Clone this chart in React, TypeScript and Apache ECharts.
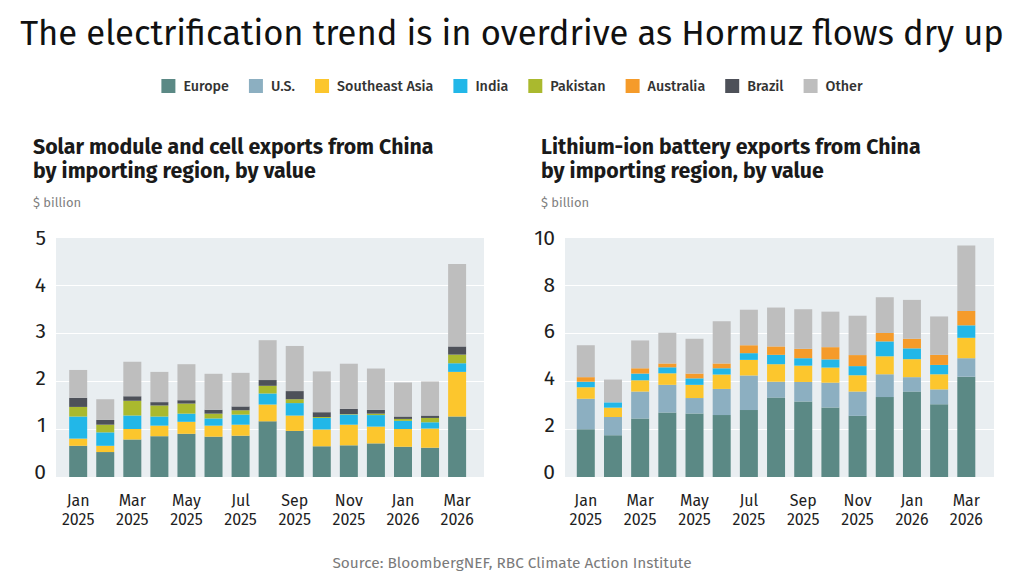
import { useEffect, useRef } from "react";
import * as echarts from "echarts";

// Month categories shared by both panels
const months = [
  "Jan\n2025", "Feb\n2025", "Mar\n2025", "Apr\n2025", "May\n2025", "Jun\n2025", "Jul\n2025",
  "Aug\n2025", "Sep\n2025", "Oct\n2025", "Nov\n2025", "Dec\n2025", "Jan\n2026", "Feb\n2026", "Mar\n2026",
];

// Solar module and cell exports, $ billion
const solarEurope = [0.65, 0.52, 0.78, 0.85, 0.9, 0.84, 0.86, 1.16, 0.96, 0.64, 0.66, 0.7, 0.63, 0.61, 1.26];
const solarSoutheastAsia = [0.15, 0.13, 0.22, 0.22, 0.25, 0.23, 0.23, 0.35, 0.32, 0.35, 0.43, 0.35, 0.37, 0.4, 0.93];
const solarIndia = [0.46, 0.28, 0.28, 0.19, 0.17, 0.15, 0.21, 0.23, 0.26, 0.24, 0.21, 0.24, 0.17, 0.13, 0.18];
const solarPakistan = [0.2, 0.16, 0.31, 0.23, 0.21, 0.1, 0.09, 0.16, 0.08, 0.02, 0.01, 0.03, 0.04, 0.09, 0.18];
const solarBrazil = [0.19, 0.1, 0.09, 0.07, 0.07, 0.08, 0.08, 0.12, 0.17, 0.1, 0.11, 0.08, 0.05, 0.05, 0.17];
const solarOther = [0.58, 0.43, 0.72, 0.63, 0.75, 0.75, 0.7, 0.83, 0.94, 0.85, 0.94, 0.86, 0.71, 0.71, 1.72];

// Lithium-ion battery exports, $ billion
const batteryEurope = [1.99, 1.74, 2.44, 2.69, 2.65, 2.58, 2.79, 3.31, 3.15, 2.9, 2.55, 3.33, 3.56, 3.03, 4.18];
const batteryUS = [1.27, 0.76, 1.12, 1.15, 0.64, 1.09, 1.44, 0.66, 0.81, 1.03, 1.01, 0.95, 0.6, 0.62, 0.77];
const batterySoutheastAsia = [0.48, 0.39, 0.47, 0.48, 0.55, 0.6, 0.65, 0.73, 0.68, 0.63, 0.68, 0.75, 0.75, 0.63, 0.85];
const batteryIndia = [0.23, 0.22, 0.28, 0.25, 0.27, 0.26, 0.28, 0.39, 0.31, 0.34, 0.38, 0.62, 0.45, 0.39, 0.52];
const batteryAustralia = [0.19, 0, 0.22, 0.16, 0.2, 0.2, 0.33, 0.35, 0.39, 0.51, 0.46, 0.35, 0.4, 0.42, 0.6];
const batteryOther = [1.33, 0.95, 1.16, 1.28, 1.45, 1.76, 1.48, 1.62, 1.65, 1.48, 1.64, 1.49, 1.62, 1.6, 2.73];

// [min, max, step] of each value axis
const solarTicks = [0, 5, 1];
const batteryTicks = [0, 10, 2];

const regionNames = ["Europe", "U.S.", "Southeast Asia", "India", "Pakistan", "Australia", "Brazil", "Other"];
const regionColors: Record<string, string> = {
  Europe: "#5b8985",
  "U.S.": "#8cafc1",
  "Southeast Asia": "#fcc62d",
  India: "#22b7e8",
  Pakistan: "#aab92e",
  Australia: "#f59b2a",
  Brazil: "#4e5159",
  Other: "#bebebe",
};

const FONT = "'Fira Sans', 'Noto Sans', sans-serif";

export default function App() {
  const ref = useRef<HTMLDivElement>(null);

  useEffect(() => {
    if (!ref.current) return;
    const chart = echarts.init(ref.current, undefined, { renderer: "svg" });

    const solarSeries: [string, number[]][] = [
      ["Europe", solarEurope],
      ["Southeast Asia", solarSoutheastAsia],
      ["India", solarIndia],
      ["Pakistan", solarPakistan],
      ["Brazil", solarBrazil],
      ["Other", solarOther],
    ];
    const batterySeries: [string, number[]][] = [
      ["Europe", batteryEurope],
      ["U.S.", batteryUS],
      ["Southeast Asia", batterySoutheastAsia],
      ["India", batteryIndia],
      ["Australia", batteryAustralia],
      ["Other", batteryOther],
    ];

    const barSeries = (list: [string, number[]][], axis: number, stack: string) =>
      list.map(([name, values]) => ({
        type: "bar",
        name,
        stack,
        xAxisIndex: axis,
        yAxisIndex: axis,
        barWidth: 18,
        itemStyle: { color: regionColors[name] },
        data: values,
      }));

    // Panel background with white gridlines
    const bgGrid = (left: number, width: number) => ({
      left,
      top: 237,
      width,
      height: 240,
      show: true,
      backgroundColor: "#e9eef1",
      borderWidth: 0,
    });
    // Category area holding the bars
    const barGrid = (left: number, width: number) => ({ left, top: 237, width, height: 240 });
    // Area carrying the tick numbers
    const labelGrid = (left: number) => ({ left, top: 238, width: 10, height: 233.5 });

    const gridY = (grid: number, ticks: number[]) => ({
      type: "value",
      gridIndex: grid,
      min: ticks[0],
      max: ticks[1],
      interval: ticks[2],
      axisLine: { show: false },
      axisTick: { show: false },
      axisLabel: { show: false },
      splitLine: { lineStyle: { color: "#ffffff", width: 1 } },
    });
    const labelY = (grid: number, ticks: number[]) => ({
      type: "value",
      gridIndex: grid,
      min: ticks[0],
      max: ticks[1],
      interval: ticks[2],
      axisLine: { show: false },
      axisTick: { show: false },
      splitLine: { show: false },
      axisLabel: { fontSize: 21, color: "#1e1e1e", margin: 10, fontFamily: FONT },
    });
    const hiddenY = (grid: number, ticks: number[]) => ({
      type: "value",
      gridIndex: grid,
      min: ticks[0],
      max: ticks[1],
      show: false,
    });
    const hiddenX = (grid: number) => ({ type: "value", gridIndex: grid, min: 0, max: 1, show: false });
    const monthX = (grid: number) => ({
      type: "category",
      gridIndex: grid,
      data: months,
      axisLine: { show: false },
      axisTick: { show: false },
      axisLabel: {
        interval: 1,
        fontSize: 16,
        lineHeight: 19,
        color: "#1e1e1e",
        margin: 14,
        fontFamily: FONT,
      },
    });

    const text = (x: number, y: number, t: string, style: any) => ({
      type: "text",
      x,
      y,
      silent: true,
      style: { text: t, fontFamily: FONT, ...style },
    });
    const heading = { fontSize: 21.3, fontWeight: "bold", fill: "#1a1a1a", verticalAlign: "middle" };

    chart.setOption({
      animation: false,
      textStyle: { fontFamily: FONT },
      grid: [
        bgGrid(56, 428),
        barGrid(64.65, 406),
        labelGrid(56),
        bgGrid(565, 429),
        barGrid(572.2, 407.7),
        labelGrid(565),
      ],
      xAxis: [hiddenX(0), monthX(1), hiddenX(2), hiddenX(3), monthX(4), hiddenX(5)],
      yAxis: [
        gridY(0, solarTicks),
        hiddenY(1, solarTicks),
        labelY(2, solarTicks),
        gridY(3, batteryTicks),
        hiddenY(4, batteryTicks),
        labelY(5, batteryTicks),
      ],
      legend: {
        data: regionNames,
        top: 74,
        left: "center",
        icon: "rect",
        itemWidth: 14,
        itemHeight: 14,
        itemGap: 20,
        textStyle: { fontSize: 14.3, fontWeight: 500, color: "#333333", fontFamily: FONT, padding: [0, 0, 0, 3] },
      },
      graphic: [
        text(512, 33, "The electrification trend is in overdrive as Hormuz flows dry up", {
          fontSize: 34.6,
          fill: "#111111",
          align: "center",
          verticalAlign: "middle",
        }),
        text(33, 147, "Solar module and cell exports from China", heading),
        text(33, 170.5, "by importing region, by value", heading),
        text(541, 147, "Lithium-ion battery exports from China", heading),
        text(541, 170.5, "by importing region, by value", heading),
        text(33, 202, "$ billion", { fontSize: 13, fill: "#808080", verticalAlign: "middle" }),
        text(541, 202, "$ billion", { fontSize: 13, fill: "#808080", verticalAlign: "middle" }),
        text(512, 563, "Source: BloombergNEF, RBC Climate Action Institute", {
          fontSize: 15.4,
          fill: "#7a7a7a",
          align: "center",
          verticalAlign: "middle",
        }),
      ],
      series: [...barSeries(solarSeries, 1, "solar"), ...barSeries(batterySeries, 4, "battery")],
    });

    return () => chart.dispose();
  }, []);

  return <div ref={ref} style={{ position: "absolute", left: 0, top: 0, width: 1024, height: 578 }} />;
}
